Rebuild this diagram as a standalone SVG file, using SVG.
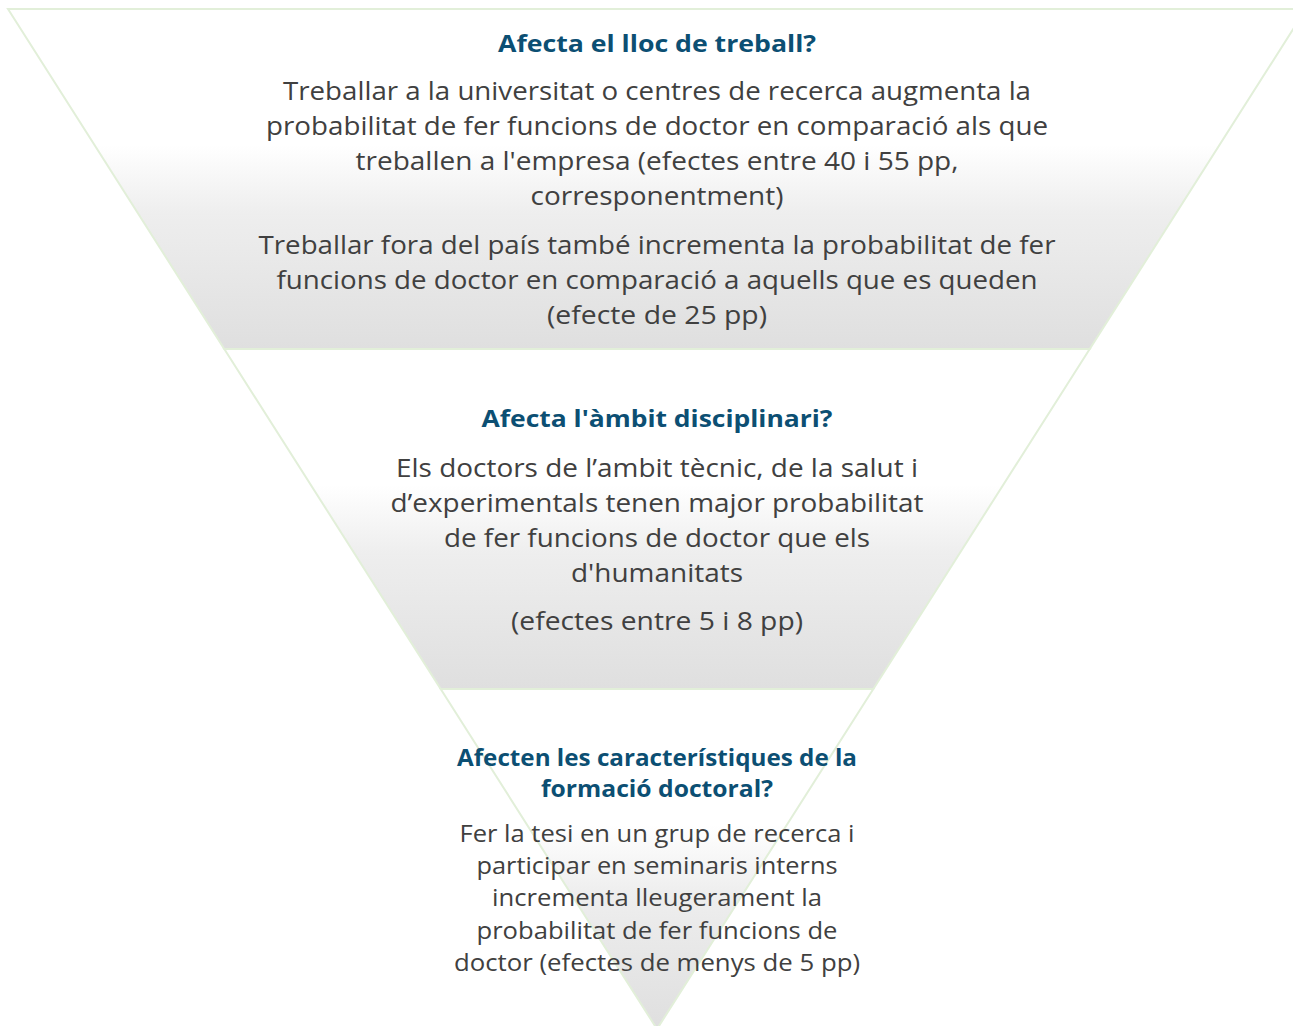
<svg xmlns="http://www.w3.org/2000/svg" width="1293" height="1026" viewBox="0 0 1293 1026">
  <style>
    .band { stroke: #e2efd9; stroke-width: 2; stroke-linejoin: miter; }
    .title { font-family: "Open Sans", "Noto Sans", "Liberation Sans", sans-serif; font-weight: 700; fill: #0c4f73; text-anchor: middle; }
    .body { font-family: "Open Sans", "Noto Sans", "Liberation Sans", sans-serif; fill: #404040; text-anchor: middle; }
    .t1 { font-size: 24px; }
    .b1 { font-size: 26px; }
    .t3 { font-size: 23px; }
    .b3 { font-size: 23px; }
  </style>
  <defs>
    <linearGradient id="g" x1="0" y1="0" x2="0" y2="1">
      <stop offset="0" stop-color="#ffffff"/>
      <stop offset="0.4" stop-color="#ffffff"/>
      <stop offset="0.6" stop-color="#eeeeee"/>
      <stop offset="1" stop-color="#dfdfdf"/>
    </linearGradient>
  </defs>
  <rect width="1293" height="1026" fill="#ffffff"/>

  <g id="band-lloc">
    <polygon class="band" fill="url(#g)" points="8,9 1306,9 1089.7,349 224.3,349"/>
    <text class="title t1" x="657" y="52" textLength="318" lengthAdjust="spacingAndGlyphs">Afecta el lloc de treball?</text>
    <text class="body b1" x="657" y="100" textLength="748" lengthAdjust="spacingAndGlyphs">Treballar a la universitat o centres de recerca augmenta la</text>
    <text class="body b1" x="657" y="135" textLength="782" lengthAdjust="spacingAndGlyphs">probabilitat de fer funcions de doctor en comparació als que</text>
    <text class="body b1" x="657" y="170" textLength="603" lengthAdjust="spacingAndGlyphs">treballen a l'empresa (efectes entre 40 i 55 pp,</text>
    <text class="body b1" x="657" y="205" textLength="253" lengthAdjust="spacingAndGlyphs">corresponentment)</text>
    <text class="body b1" x="657" y="254" textLength="797" lengthAdjust="spacingAndGlyphs">Treballar fora del país també incrementa la probabilitat de fer</text>
    <text class="body b1" x="657" y="289" textLength="761" lengthAdjust="spacingAndGlyphs">funcions de doctor en comparació a aquells que es queden</text>
    <text class="body b1" x="657" y="324" textLength="220" lengthAdjust="spacingAndGlyphs">(efecte de 25 pp)</text>
  </g>

  <g id="band-ambit">
    <polygon class="band" fill="url(#g)" points="224.3,349 1089.7,349 873.3,689 440.7,689"/>
    <text class="title t1" x="657" y="427" textLength="351" lengthAdjust="spacingAndGlyphs">Afecta l'àmbit disciplinari?</text>
    <text class="body b1" x="657" y="477" textLength="522" lengthAdjust="spacingAndGlyphs">Els doctors de l’ambit tècnic, de la salut i</text>
    <text class="body b1" x="657" y="512" textLength="533" lengthAdjust="spacingAndGlyphs">d’experimentals tenen major probabilitat</text>
    <text class="body b1" x="657" y="547" textLength="426" lengthAdjust="spacingAndGlyphs">de fer funcions de doctor que els</text>
    <text class="body b1" x="657" y="582" textLength="172" lengthAdjust="spacingAndGlyphs">d'humanitats</text>
    <text class="body b1" x="657" y="630" textLength="292" lengthAdjust="spacingAndGlyphs">(efectes entre 5 i 8 pp)</text>
  </g>

  <g id="band-formacio">
    <polygon class="band" fill="url(#g)" points="440.7,689 873.3,689 657,1029"/>
    <text class="title t3" x="657" y="766" textLength="400" lengthAdjust="spacingAndGlyphs">Afecten les característiques de la</text>
    <text class="title t3" x="657" y="797" textLength="232" lengthAdjust="spacingAndGlyphs">formació doctoral?</text>
    <text class="body b3" x="657" y="842" textLength="395" lengthAdjust="spacingAndGlyphs">Fer la tesi en un grup de recerca i</text>
    <text class="body b3" x="657" y="874" textLength="361" lengthAdjust="spacingAndGlyphs">participar en seminaris interns</text>
    <text class="body b3" x="657" y="906" textLength="330" lengthAdjust="spacingAndGlyphs">incrementa lleugerament la</text>
    <text class="body b3" x="657" y="939" textLength="361" lengthAdjust="spacingAndGlyphs">probabilitat de fer funcions de</text>
    <text class="body b3" x="657" y="971" textLength="406" lengthAdjust="spacingAndGlyphs">doctor (efectes de menys de 5 pp)</text>
  </g>

  <g id="connectors"/>
</svg>
